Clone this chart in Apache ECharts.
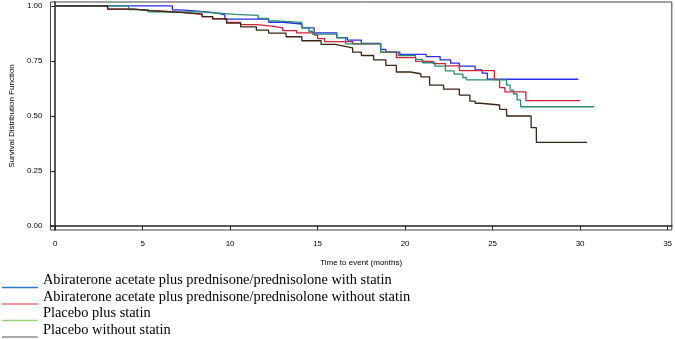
<!DOCTYPE html>
<html>
<head>
<meta charset="utf-8">
<script src="https://cdn.jsdelivr.net/npm/echarts@6/dist/echarts.min.js"></script>
<style>
  html, body { margin: 0; padding: 0; background: #fff; }
  #chart { width: 675px; height: 339px; }
</style>
</head>
<body>
<div id="chart"></div>
<script>
// group names, legend order
const groupNames = [
  'Abiraterone acetate plus prednisone/prednisolone with statin',
  'Abiraterone acetate plus prednisone/prednisolone without statin',
  'Placebo plus statin',
  'Placebo without statin'
];

// Kaplan-Meier steps (months, survival)
const aaWithTime = [0, 6.7, 7.2, 8.3, 9.2, 9.7, 12.2, 13.0, 14.1, 14.8, 16.1, 16.7, 17.5, 18.6, 18.9, 19.7, 21.2, 22.0, 22.6, 23.1, 24.0, 24.4, 24.7, 29.9];
const aaWithSurv = [1.0, 0.982, 0.975, 0.969, 0.96, 0.94, 0.926, 0.918, 0.9, 0.878, 0.856, 0.845, 0.83, 0.803, 0.79, 0.78, 0.77, 0.755, 0.74, 0.727, 0.709, 0.695, 0.667, 0.667];

const aaWithoutTime = [0, 3.0, 4.5, 5.8, 7.2, 8.4, 9.0, 9.8, 10.6, 11.5, 12.4, 13.0, 13.8, 14.8, 15.0, 15.4, 17.0, 18.6, 19.5, 20.6, 21.6, 22.3, 23.1, 25.1, 25.4, 25.7, 26.9, 30.0];
const aaWithoutSurv = [1.0, 0.986, 0.977, 0.971, 0.963, 0.952, 0.941, 0.925, 0.915, 0.908, 0.9, 0.888, 0.878, 0.868, 0.852, 0.838, 0.828, 0.79, 0.765, 0.748, 0.738, 0.728, 0.706, 0.665, 0.629, 0.61, 0.57, 0.57];

const pboWithTime = [0, 4.2, 5.3, 8.4, 9.2, 10.3, 11.6, 12.2, 12.6, 14.1, 14.5, 14.7, 16.1, 16.6, 18.6, 19.6, 20.6, 21.0, 21.7, 22.3, 22.8, 23.3, 23.5, 25.8, 26.0, 26.2, 26.4, 26.6, 30.8];
const pboWithSurv = [1.0, 0.983, 0.973, 0.968, 0.962, 0.957, 0.944, 0.932, 0.925, 0.9, 0.885, 0.872, 0.855, 0.828, 0.79, 0.775, 0.757, 0.742, 0.727, 0.705, 0.69, 0.675, 0.664, 0.64, 0.618, 0.6, 0.573, 0.542, 0.542];

const pboWithoutTime = [0, 3.0, 4.5, 5.8, 7.2, 8.4, 9.0, 9.8, 10.6, 11.5, 12.2, 13.2, 14.1, 15.2, 16.0, 16.5, 17.0, 17.5, 18.2, 18.9, 19.5, 20.3, 20.9, 21.4, 22.2, 23.1, 23.7, 24.0, 24.3, 25.4, 25.8, 27.2, 27.5, 30.4];
const pboWithoutSurv = [1.0, 0.986, 0.977, 0.971, 0.963, 0.952, 0.941, 0.922, 0.905, 0.89, 0.877, 0.86, 0.842, 0.825, 0.818, 0.81, 0.79, 0.775, 0.755, 0.73, 0.70, 0.692, 0.678, 0.64, 0.622, 0.595, 0.568, 0.558, 0.55, 0.53, 0.50, 0.447, 0.38, 0.38];

const xTicks = [0, 5, 10, 15, 20, 25, 30, 35];
const yTicks = [0, 0.25, 0.5, 0.75, 1];

const lineColors = ['#2b2bf0', '#d0203a', '#2a8a72', '#3a2616'];
const legendColors = ['#2f78c8', '#f07878', '#96d27a', '#8c8c8c'];

const curves = [
  [aaWithTime, aaWithSurv],
  [aaWithoutTime, aaWithoutSurv],
  [pboWithTime, pboWithSurv],
  [pboWithoutTime, pboWithoutSurv]
];

const chart = echarts.init(document.getElementById('chart'));

// short line sitting at the bottom of each legend row
const legendIcon = 'path://M0,0h0.01v0.01h-0.01z M0,14.5h36v1.6h-36z';

const option = {
  animation: false,
  textStyle: { fontFamily: 'Liberation Sans, Arial, sans-serif' },
  grid: {
    left: 42,
    right: 3,
    top: 2,
    height: 228,
    show: true,
    borderColor: '#444',
    borderWidth: 1
  },
  xAxis: {
    type: 'value',
    min: -0.265,
    max: 35.24,
    name: 'Time to event (months)',
    nameLocation: 'middle',
    nameGap: 29,
    nameTextStyle: { fontSize: 8, color: '#000' },
    axisLine: { show: true, lineStyle: { color: '#222', width: 1.5 } },
    axisTick: { show: true, length: 4, customValues: xTicks, lineStyle: { color: '#222' } },
    axisLabel: { customValues: xTicks, fontSize: 8, color: '#000', margin: 10 },
    splitLine: { show: false }
  },
  yAxis: {
    type: 'value',
    min: -0.018,
    max: 1.018,
    name: 'Survival Distribution Function',
    nameLocation: 'middle',
    nameGap: 28,
    nameTextStyle: { fontSize: 8, color: '#000' },
    axisLine: { show: true, lineStyle: { color: '#222', width: 1.5 } },
    axisTick: { show: true, length: 4, customValues: yTicks, lineStyle: { color: '#222' } },
    axisLabel: {
      customValues: yTicks,
      fontSize: 8,
      color: '#000',
      margin: 8,
      formatter: v => v.toFixed(2)
    },
    splitLine: { show: false }
  },
  legend: {
    orient: 'vertical',
    left: 2,
    top: 272,
    height: 67,
    padding: 0,
    itemWidth: 36,
    itemHeight: 16,
    itemGap: 0,
    icon: legendIcon,
    selectedMode: false,
    textStyle: {
      fontFamily: 'Liberation Serif, Times New Roman, serif',
      fontSize: 14.4,
      color: '#000',
      lineHeight: 16.5
    },
    data: groupNames.map((name, i) => ({
      name,
      itemStyle: { color: legendColors[i], borderWidth: 0 },
      lineStyle: { color: legendColors[i], width: 0 }
    }))
  },
  series: curves.map(([ts, ss], i) => ({
    name: groupNames[i],
    type: 'line',
    step: 'end',
    symbol: 'none',
    lineStyle: { color: lineColors[i], width: 1.3 },
    itemStyle: { color: lineColors[i] },
    data: ts.map((t, j) => [t, ss[j]])
  }))
};

chart.setOption(option);
window.addEventListener('resize', () => chart.resize());
</script>
</body>
</html>
